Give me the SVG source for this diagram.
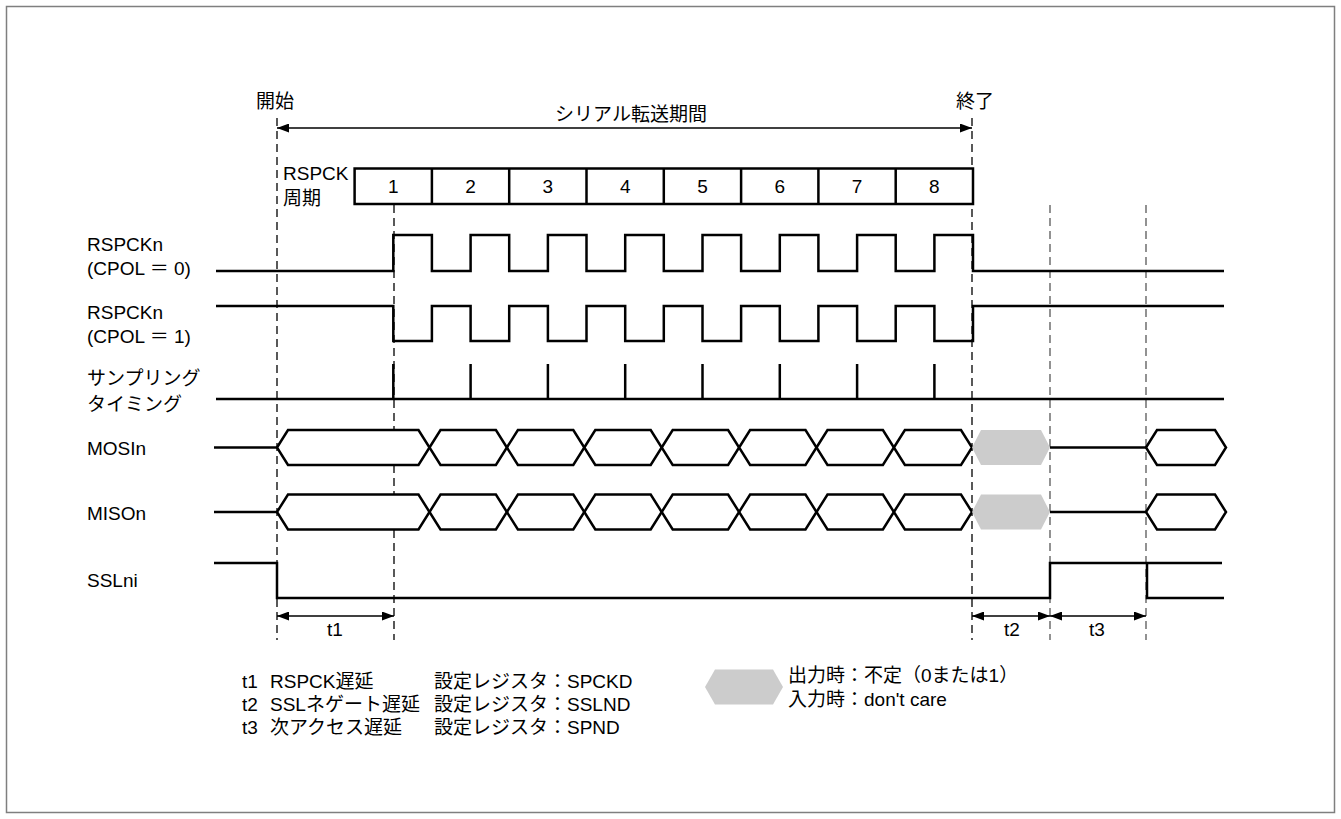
<svg xmlns="http://www.w3.org/2000/svg" xmlns:xlink="http://www.w3.org/1999/xlink" width="1341" height="819" viewBox="0 0 1341 819">
<style>
text{font-family:"Liberation Sans","Noto Sans CJK JP",sans-serif;font-size:19px;fill:#000}
.mid{text-anchor:middle}
.wave{fill:none;stroke:#000;stroke-width:2.5;stroke-linejoin:miter}
.hex{fill:#fff;stroke:#000;stroke-width:2.5;stroke-linejoin:miter}
.dk{fill:none;stroke:#000;stroke-width:1.3;stroke-dasharray:8,5}
.gy{fill:none;stroke:#777;stroke-width:1.6;stroke-dasharray:8,5}
.arr{fill:none;stroke:#000;stroke-width:1.5;marker-start:url(#ah);marker-end:url(#ah)}
.gray{fill:#cccccc;stroke:none}
.cell{fill:#fff;stroke:#000;stroke-width:2.5}
</style>
<defs>
<marker id="ah" viewBox="0 0 12 9" refX="12" refY="4.5" markerWidth="12" markerHeight="9" markerUnits="userSpaceOnUse" orient="auto-start-reverse">
<path d="M0,0 L12,4.5 L0,9 z" fill="#000"/>
</marker>
<g id="data">
<path class="wave" d="M214,447.5 L277,447.5"/>
<polygon class="hex" points="277,447.5 288,430 418.5,430 429.5,447.5 418.5,465 288,465"/>
<polygon class="hex" points="429.5,447.5 440.5,430 495.9,430 506.9,447.5 495.9,465 440.5,465"/>
<polygon class="hex" points="506.9,447.5 517.9,430 573.3,430 584.3,447.5 573.3,465 517.9,465"/>
<polygon class="hex" points="584.3,447.5 595.3,430 650.7,430 661.7,447.5 650.7,465 595.3,465"/>
<polygon class="hex" points="661.7,447.5 672.7,430 728.1,430 739.1,447.5 728.1,465 672.7,465"/>
<polygon class="hex" points="739.1,447.5 750.1,430 805.5,430 816.5,447.5 805.5,465 750.1,465"/>
<polygon class="hex" points="816.5,447.5 827.5,430 882.9,430 893.9,447.5 882.9,465 827.5,465"/>
<polygon class="hex" points="893.9,447.5 904.9,430 961,430 972,447.5 961,465 904.9,465"/>
<polygon class="gray" points="972,447.5 981,430 1041,430 1050,447.5 1041,465 981,465"/>
<path class="wave" d="M1050,447.5 L1146,447.5"/>
<polygon class="hex" points="1146,447.5 1157,430 1215,430 1226,447.5 1215,465 1157,465"/>
</g>
</defs>

<rect x="6.5" y="6.5" width="1328" height="806" fill="#fff" stroke="#7f7f7f" stroke-width="1.5"/>

<g id="guides">
<path class="dk" d="M277,118 V640"/>
<path class="dk" d="M394,205 V640"/>
<path class="dk" d="M972,118 V640"/>
<path class="gy" d="M1050,205 V640"/>
<path class="gy" d="M1146,205 V640"/>
</g>

<g id="connectors">
<path class="arr" d="M277,128 H972"/>
<path class="arr" d="M277,616 H394"/>
<path class="arr" d="M972,616 H1050"/>
<path class="arr" d="M1050,616 H1146"/>
</g>

<g id="header">
<text x="256" y="108">開始</text>
<text x="956" y="108">終了</text>
<text class="mid" x="631" y="121">シリアル転送期間</text>
</g>

<g id="rspck-cycle">
<text x="283" y="180">RSPCK</text>
<text x="283" y="205">周期</text>
<rect class="cell" x="354.6" y="168.5" width="618.4" height="35.5"/>
<path class="wave" d="M431.9,168.5 V204 M509.2,168.5 V204 M586.5,168.5 V204 M663.8,168.5 V204 M741.1,168.5 V204 M818.4,168.5 V204 M895.7,168.5 V204"/>
<text class="mid" x="393.3" y="193">1</text>
<text class="mid" x="470.6" y="193">2</text>
<text class="mid" x="547.9" y="193">3</text>
<text class="mid" x="625.2" y="193">4</text>
<text class="mid" x="702.5" y="193">5</text>
<text class="mid" x="779.8" y="193">6</text>
<text class="mid" x="857.1" y="193">7</text>
<text class="mid" x="934.4" y="193">8</text>
</g>

<g id="rspckn-cpol0">
<text x="87" y="251">RSPCKn</text>
<text x="87" y="275">(CPOL ＝ 0)</text>
<path class="wave" d="M216,271 H393.3 V235 H431.9 V271 H470.6 V235 H509.2 V271 H547.9 V235 H586.5 V271 H625.2 V235 H663.8 V271 H702.5 V235 H741.1 V271 H779.8 V235 H818.4 V271 H857.1 V235 H895.7 V271 H934.4 V235 H973 V271 H1224"/>
</g>

<g id="rspckn-cpol1">
<text x="87" y="319">RSPCKn</text>
<text x="87" y="343">(CPOL ＝ 1)</text>
<path class="wave" d="M216,306 H393.3 V341 H431.9 V306 H470.6 V341 H509.2 V306 H547.9 V341 H586.5 V306 H625.2 V341 H663.8 V306 H702.5 V341 H741.1 V306 H779.8 V341 H818.4 V306 H857.1 V341 H895.7 V306 H934.4 V341 H973 V306 H1224"/>
</g>

<g id="sampling">
<text x="87" y="385">サンプリング</text>
<text x="87" y="411">タイミング</text>
<path class="wave" d="M216,399 H1224 M393.3,364 V399 M470.6,364 V399 M547.9,364 V399 M625.2,364 V399 M702.5,364 V399 M779.8,364 V399 M857.1,364 V399 M934.4,364 V399"/>
</g>

<g id="mosin">
<text x="87" y="455">MOSIn</text>
<use xlink:href="#data"/>
</g>

<g id="mison">
<text x="87" y="520">MISOn</text>
<use xlink:href="#data" transform="translate(0,64.5)"/>
</g>

<g id="sslni">
<text x="87" y="587">SSLni</text>
<path class="wave" d="M214,563 H277 V598 H1050 V563 H1222"/>
<path class="wave" d="M1147,563 V598 H1224"/>
</g>

<g id="delays">
<text class="mid" x="335" y="636">t1</text>
<text class="mid" x="1012" y="636">t2</text>
<text class="mid" x="1097" y="636">t3</text>
</g>

<g id="legend-delays">
<text x="242" y="688">t1</text>
<text x="270" y="688">RSPCK遅延</text>
<text x="434" y="688">設定レジスタ：SPCKD</text>
<text x="242" y="711">t2</text>
<text x="270" y="711">SSLネゲート遅延</text>
<text x="434" y="711">設定レジスタ：SSLND</text>
<text x="242" y="734">t3</text>
<text x="270" y="734">次アクセス遅延</text>
<text x="434" y="734">設定レジスタ：SPND</text>
</g>

<g id="legend-undefined">
<polygon class="gray" points="705,687 715,669.5 773,669.5 783,687 773,704.5 715,704.5"/>
<text x="788" y="682">出力時：不定（0または1）</text>
<text x="788" y="706">入力時：don't care</text>
</g>
</svg>
